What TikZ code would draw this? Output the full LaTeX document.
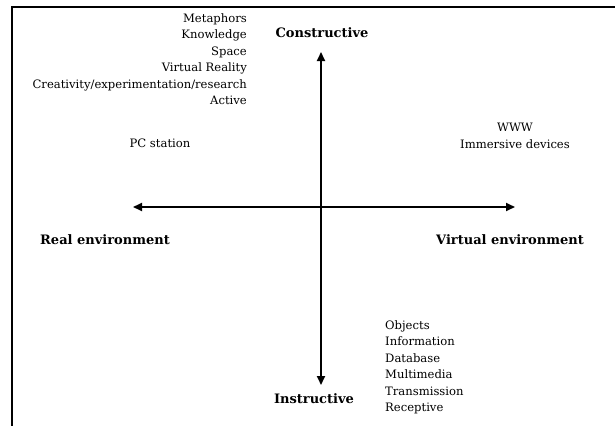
\documentclass[tikz,border=0pt]{standalone}
\usepackage{fontspec}
\setmainfont{DejaVu Serif}
\usetikzlibrary{arrows.meta}
\begin{document}
\begin{tikzpicture}[x=1pt,y=-1pt,
  axis/.style={line width=1.8pt,{Triangle[length=9pt,width=8pt]}-{Triangle[length=9pt,width=8pt]}},
  boldlbl/.style={font=\fontsize{13}{15}\selectfont\bfseries,inner sep=0pt},
  lst/.style={font=\fontsize{11.6}{16.5}\selectfont,inner sep=0pt}]
\useasboundingbox (0,0) rectangle (615,426);
\draw[line width=1.6pt] (615,7) -- (12,7) -- (12,426);
\coordinate (top) at (321,52);
\coordinate (bot) at (321,385);
\coordinate (lft) at (133,207);
\coordinate (rgt) at (515,207);
\draw[axis] (top) -- (bot);
\draw[axis] (lft) -- (rgt);
\node[boldlbl] (cons) at (322,33) {Constructive};
\node[boldlbl] (instr) at (314,399) {Instructive};
\node[boldlbl] (real) at (105,240) {Real environment};
\node[boldlbl] (virt) at (510,240) {Virtual environment};
\node[lst] (pc) at (160,143) {PC station};
\node[lst,align=center] (www) at (515,136) {WWW\\Immersive devices};
\node[lst,align=right,anchor=north east] (cl) at (247,13) {Metaphors\\Knowledge\\Space\\Virtual Reality\\Creativity/experimentation/research\\Active};
\node[lst,align=left,anchor=north west] (il) at (385,320) {Objects\\Information\\Database\\Multimedia\\Transmission\\Receptive};
\end{tikzpicture}
\end{document}
